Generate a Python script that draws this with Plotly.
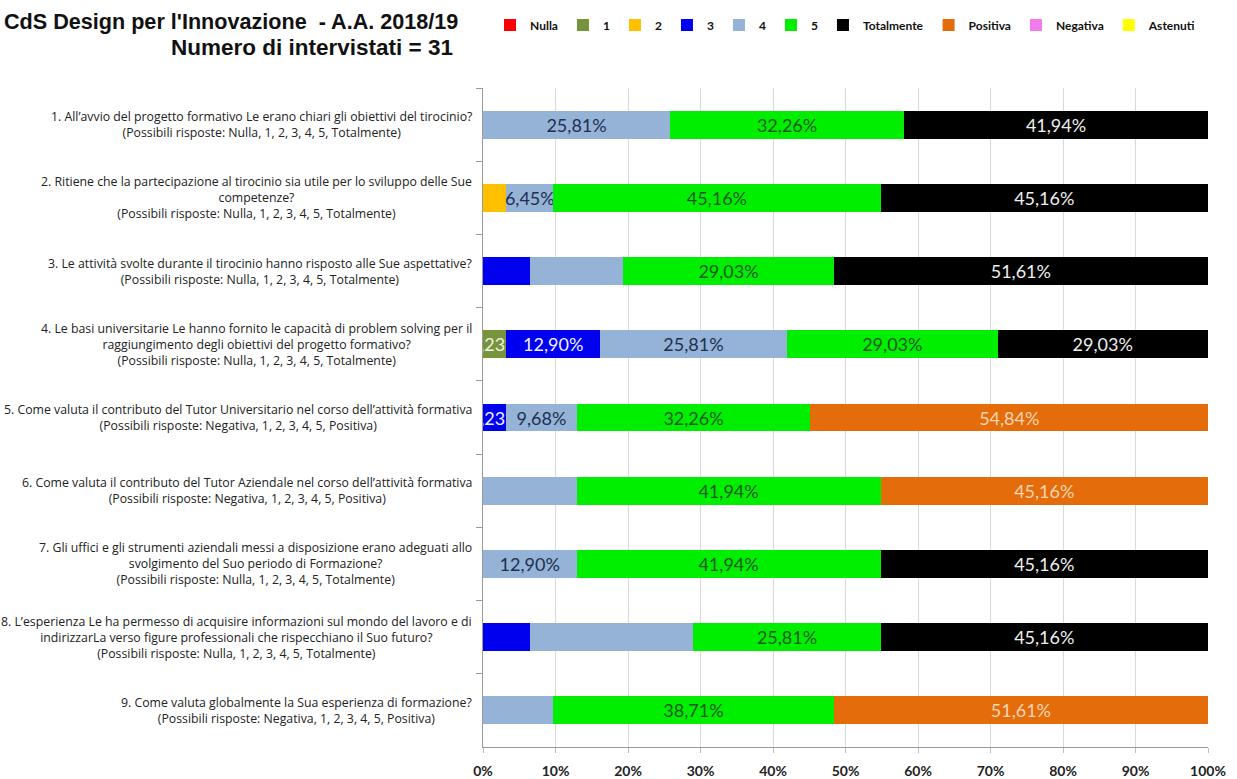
import plotly.graph_objects as go

# ---------------- data ----------------
questions = ["Q1", "Q2", "Q3", "Q4", "Q5", "Q6", "Q7", "Q8", "Q9"]

question_labels = [
    "1. All’avvio del progetto formativo Le erano chiari gli obiettivi del tirocinio?<br>(Possibili risposte: Nulla, 1, 2, 3, 4, 5, Totalmente)",
    "2. Ritiene che la partecipazione al tirocinio sia utile per lo sviluppo delle Sue<br>competenze?<br>(Possibili risposte: Nulla, 1, 2, 3, 4, 5, Totalmente)",
    "3. Le attività svolte durante il tirocinio hanno risposto alle Sue aspettative?<br>(Possibili risposte: Nulla, 1, 2, 3, 4, 5, Totalmente)",
    "4. Le basi universitarie Le hanno fornito le capacità di problem solving per il<br>raggiungimento degli obiettivi del progetto formativo?<br>(Possibili risposte: Nulla, 1, 2, 3, 4, 5, Totalmente)",
    "5. Come valuta il contributo del Tutor Universitario nel corso dell’attività formativa<br>(Possibili risposte: Negativa, 1, 2, 3, 4, 5, Positiva)",
    "6. Come valuta il contributo del Tutor Aziendale nel corso dell’attività formativa<br>(Possibili risposte: Negativa, 1, 2, 3, 4, 5, Positiva)",
    "7. Gli uffici e gli strumenti aziendali messi a disposizione erano adeguati allo<br>svolgimento del Suo periodo di Formazione?<br>(Possibili risposte: Nulla, 1, 2, 3, 4, 5, Totalmente)",
    "8. L’esperienza Le ha permesso di acquisire informazioni sul mondo del lavoro e di<br>indirizzarLa verso figure professionali che rispecchiano il Suo futuro?<br>(Possibili risposte: Nulla, 1, 2, 3, 4, 5, Totalmente)",
    "9. Come valuta globalmente la Sua esperienza di formazione?<br>(Possibili risposte: Negativa, 1, 2, 3, 4, 5, Positiva)",
]

series_names = ["Nulla", "1", "2", "3", "4", "5", "Totalmente", "Positiva", "Negativa", "Astenuti"]

# percentages per question (Q1..Q9)
nulla      = [0, 0, 0, 0, 0, 0, 0, 0, 0]
uno        = [0, 0, 0, 3.23, 0, 0, 0, 0, 0]
due        = [0, 3.23, 0, 0, 0, 0, 0, 0, 0]
tre        = [0, 0, 6.45, 12.90, 3.23, 0, 0, 6.45, 0]
quattro    = [25.81, 6.45, 12.90, 25.81, 9.68, 12.90, 12.90, 22.58, 9.68]
cinque     = [32.26, 45.16, 29.03, 29.03, 32.26, 41.94, 41.94, 25.81, 38.71]
totalmente = [41.94, 45.16, 51.61, 29.03, 0, 0, 45.16, 45.16, 0]
positiva   = [0, 0, 0, 0, 54.84, 45.16, 0, 0, 51.61]
negativa   = [0, 0, 0, 0, 0, 0, 0, 0, 0]
astenuti   = [0, 0, 0, 0, 0, 0, 0, 0, 0]

# which segments carry a visible data label
show_nulla      = [0, 0, 0, 0, 0, 0, 0, 0, 0]
show_uno        = [0, 0, 0, 1, 0, 0, 0, 0, 0]
show_due        = [0, 0, 0, 0, 0, 0, 0, 0, 0]
show_tre        = [0, 0, 0, 1, 1, 0, 0, 0, 0]
show_quattro    = [1, 1, 0, 1, 1, 0, 1, 0, 0]
show_cinque     = [1, 1, 1, 1, 1, 1, 1, 1, 1]
show_totalmente = [1, 1, 1, 1, 0, 0, 1, 1, 0]
show_positiva   = [0, 0, 0, 0, 1, 1, 0, 0, 1]
show_negativa   = [0, 0, 0, 0, 0, 0, 0, 0, 0]
show_astenuti   = [0, 0, 0, 0, 0, 0, 0, 0, 0]

x_tick_values = [0, 10, 20, 30, 40, 50, 60, 70, 80, 90, 100]
x_tick_labels = ["0%", "10%", "20%", "30%", "40%", "50%", "60%", "70%", "80%", "90%", "100%"]

title_line1 = "CdS Design per l'Innovazione \u00a0- A.A. 2018/19"
title_line2 = "Numero di intervistati = 31"

# ---------------- styling ----------------
colors = ["#ff0000", "#77933c", "#ffc000", "#0000ee", "#95b3d7", "#00ee00",
          "#000000", "#e46c0a", "#f07cec", "#ffff00"]
text_colors = ["#ffffff", "#eef3e0", "#222222", "#f0f0ff", "#1f2f4f", "#1e5a1e",
               "#eeeeee", "#fcd5b4", "#222222", "#222222"]

values = [nulla, uno, due, tre, quattro, cinque, totalmente, positiva, negativa, astenuti]
shows = [show_nulla, show_uno, show_due, show_tre, show_quattro, show_cinque,
         show_totalmente, show_positiva, show_negativa, show_astenuti]


def fmt(v):
    return f"{v:.2f}%".replace(".", ",")


fig = go.Figure()
for name, vals, show, col, tcol in zip(series_names, values, shows, colors, text_colors):
    fig.add_trace(go.Bar(
        name=name,
        y=questions,
        x=vals,
        orientation="h",
        marker=dict(color=col, line=dict(width=0)),
        text=[fmt(v) if s and v > 0 else "" for v, s in zip(vals, show)],
        textposition="inside",
        insidetextanchor="middle",
        textangle=0,
        constraintext="none",
        textfont=dict(family="Lato, Open Sans, sans-serif", size=18, color=tcol),
        cliponaxis=True,
        hoverinfo="name+x",
    ))

L, R, T, B = 483, 29, 88, 32
W, H = 1237, 779
PW, PH = W - L - R, H - T - B


def px_x(px):
    return (px - L) / PW


def px_y(py):
    return (H - B - py) / PH


annotations = []
for q, lab in zip(questions, question_labels):
    annotations.append(dict(
        x=px_x(474), xref="paper", y=q, yref="y",
        text=lab, showarrow=False, xanchor="right", yanchor="middle",
        align="center",
        font=dict(family="Open Sans, Noto Sans, sans-serif", size=12.3, color="#222222"),
    ))

title_font1 = dict(family="Liberation Sans, Arial, sans-serif", size=21.6, color="#111111", weight="bold")
title_font2 = dict(family="Liberation Sans, Arial, sans-serif", size=22.5, color="#111111", weight="bold")
annotations.append(dict(
    x=px_x(460), xref="paper", y=px_y(22), yref="paper", text=title_line1,
    showarrow=False, xanchor="right", yanchor="middle", align="right", font=title_font1,
))
annotations.append(dict(
    x=px_x(455), xref="paper", y=px_y(47), yref="paper", text=title_line2,
    showarrow=False, xanchor="right", yanchor="middle", align="right", font=title_font2,
))

fig.update_layout(
    width=W, height=H,
    margin=dict(l=L, r=R, t=T, b=B, pad=0, autoexpand=False),
    paper_bgcolor="white", plot_bgcolor="white",
    barmode="stack", bargap=0.62,
    showlegend=True,
    legend=dict(
        orientation="h", xref="container", yref="container",
        x=490 / W, y=1 - 25 / H, xanchor="left", yanchor="middle",
        traceorder="normal",
        font=dict(family="Lato, Open Sans, sans-serif", size=12, color="#111111", weight="bold"),
        itemwidth=30, bgcolor="rgba(0,0,0,0)",
    ),
    annotations=annotations,
    xaxis=dict(
        range=[0, 100], tickmode="array", tickvals=x_tick_values, ticktext=x_tick_labels,
        showgrid=True, gridcolor="#d9d9d9", gridwidth=1, zeroline=False,
        showline=True, linecolor="#9a9a9a", linewidth=1,
        ticks="outside", ticklen=5, tickcolor="#bfbfbf",
        tickfont=dict(family="Lato, Open Sans, sans-serif", size=14, color="#222222", weight="bold"),
        ticklabelstandoff=6,
        fixedrange=True,
    ),
    yaxis=dict(
        type="category", categoryorder="array", categoryarray=questions,
        autorange="reversed", showticklabels=False,
        showgrid=False, zeroline=False,
        showline=True, linecolor="#9a9a9a", linewidth=1,
        ticks="outside", ticklen=6, tickcolor="#9a9a9a", tickson="boundaries",
        fixedrange=True,
    ),
)

fig.write_html("out.html", config={"displayModeBar": False})

# remove the default page margin so the figure sits at the window's top-left corner
with open("out.html", "r", encoding="utf-8") as f:
    html = f.read()
html = html.replace("<body>", '<body style="margin:0;padding:0;overflow:hidden">', 1)
with open("out.html", "w", encoding="utf-8") as f:
    f.write(html)
